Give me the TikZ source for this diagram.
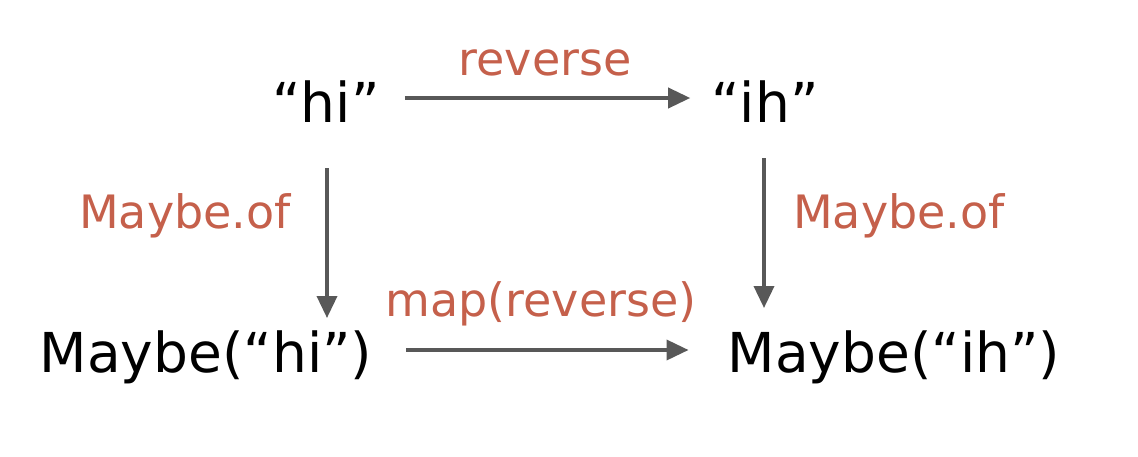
\documentclass[tikz,border=0pt]{standalone}
\usepackage{fontspec}
\setmainfont{DejaVu Sans}
\usetikzlibrary{arrows.meta}
\definecolor{lab}{RGB}{197,96,75}
\definecolor{arrgray}{RGB}{88,88,88}
\tikzset{
  obj/.style={anchor=base, inner sep=0pt, font=\fontsize{55}{62}\selectfont, text=black},
  lbl/.style={anchor=base, inner sep=0pt, font=\fontsize{46}{54}\selectfont, text=lab},
  arr/.style={draw=arrgray, line width=3.6pt, -{Triangle[length=22pt,width=20pt]}}
}
\begin{document}
\begin{tikzpicture}[x=1pt,y=-1pt]
\useasboundingbox (0,0) rectangle (1138,456);
\node[obj] (hi) at (326,122) {“hi”};
\node[obj] (ih) at (765,122) {“ih”};
\node[obj] (mhi) at (206,372) {Maybe(“hi”)};
\node[obj] (mih) at (894,372) {Maybe(“ih”)};
\node[lbl] (rev) at (545,75) {reverse};
\node[lbl] (ofl) at (185,228) {Maybe.of};
\node[lbl] (ofr) at (899,228) {Maybe.of};
\node[lbl] (mrev) at (541,316) {map(reverse)};
\draw[arr, shorten <=25pt, shorten >=21pt] (hi.east |- 0,98) coordinate (a1) -- (a1 -| ih.west);
\draw[arr, shorten >=12pt] (hi.south -| 327,0) ++(0,46) coordinate (b1) -- (b1 |- mhi.north);
\draw[arr, shorten >=22pt] (ih.south -| 764,0) ++(0,36) coordinate (c1) -- (c1 |- mih.north);
\draw[arr, shorten <=34pt, shorten >=39pt] (mhi.east |- 0,350) coordinate (d1) -- (d1 -| mih.west);
\end{tikzpicture}
\end{document}
